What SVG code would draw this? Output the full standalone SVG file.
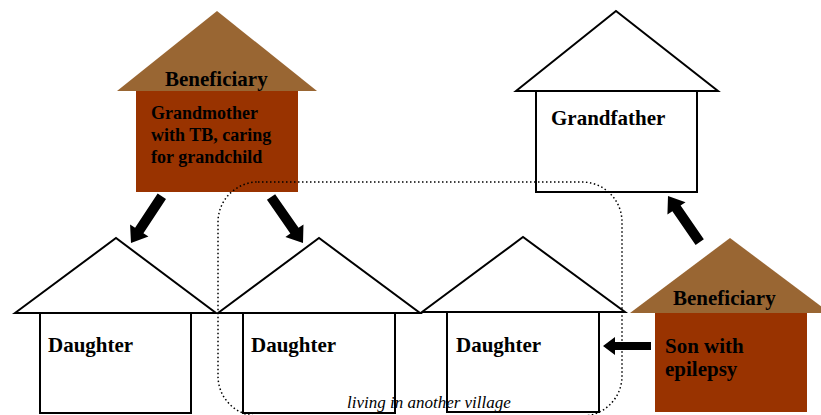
<svg xmlns="http://www.w3.org/2000/svg" xmlns:xlink="http://www.w3.org/1999/xlink" width="821" height="415" viewBox="0 0 821 415">
<style>
.roof{fill:#fff;stroke:#000;stroke-width:2;stroke-linejoin:miter}
.body{fill:#fff;stroke:#000;stroke-width:2}
.broof{fill:#996633}
.bbody{fill:#993300}
.lbl{font-family:"Liberation Serif","Times New Roman",serif;font-weight:bold;font-size:21px;fill:#000}
.lbl18{font-family:"Liberation Serif","Times New Roman",serif;font-weight:bold;font-size:18px;fill:#000}
.note{font-family:"Liberation Serif","Times New Roman",serif;font-style:italic;font-size:17px;fill:#000}
.arrow{fill:#000}
</style>
<defs>
<polygon id="arr" points="0,0 -15,-11 -15,-5 -56,-5 -56,5 -15,5 -15,11"/>
</defs>
<g id="grandmother">
<polygon class="broof" points="117,91 217,11 317,91"/>
<rect class="bbody" x="136" y="91" width="162" height="101"/>
<text class="lbl" x="165" y="86">Beneficiary</text>
<text class="lbl18" x="151" y="119">Grandmother</text>
<text class="lbl18" x="151" y="141">with TB, caring</text>
<text class="lbl18" x="151" y="163">for grandchild</text>
</g>
<g id="grandfather">
<polygon class="roof" points="516,91 616,11 718,91"/>
<rect class="body" x="536" y="91" width="161" height="101"/>
<text class="lbl" x="551" y="125">Grandfather</text>
</g>
<g id="daughter1">
<polygon class="roof" points="15,313 116,238 216,313"/>
<rect class="body" x="40" y="313" width="151" height="100"/>
<text class="lbl" x="48" y="352">Daughter</text>
</g>
<g id="daughter2">
<polygon class="roof" points="218,313 319,238 420,313"/>
<rect class="body" x="243" y="313" width="152" height="100"/>
<text class="lbl" x="251" y="352">Daughter</text>
</g>
<g id="daughter3">
<polygon class="roof" points="422,312 523,237 625,312"/>
<rect class="body" x="447" y="312" width="152" height="100"/>
<text class="lbl" x="456" y="352">Daughter</text>
</g>
<g id="son">
<polygon class="broof" points="630,313 730,238 830,313"/>
<rect class="bbody" x="655" y="313" width="152" height="99"/>
<text class="lbl" x="673" y="305">Beneficiary</text>
<text class="lbl" x="665" y="353">Son with</text>
<text class="lbl" x="665" y="376">epilepsy</text>
</g>
<g id="village">
<rect x="218" y="182" width="404" height="234" rx="40" ry="40" fill="none" stroke="#000" stroke-width="1.5" stroke-dasharray="1.5,2.5"/>
<text class="note" x="347" y="408">living in another village</text>
</g>
<g id="connectors" class="arrow">
<use xlink:href="#arr" transform="translate(131,243) rotate(123.4)"/>
<use xlink:href="#arr" transform="translate(303,243) rotate(55.2)"/>
<use xlink:href="#arr" transform="translate(668,196) rotate(-124.5)"/>
<polygon points="603,346 615,337 615,342 651,342 651,350 615,350 615,355"/>
</g>
</svg>
